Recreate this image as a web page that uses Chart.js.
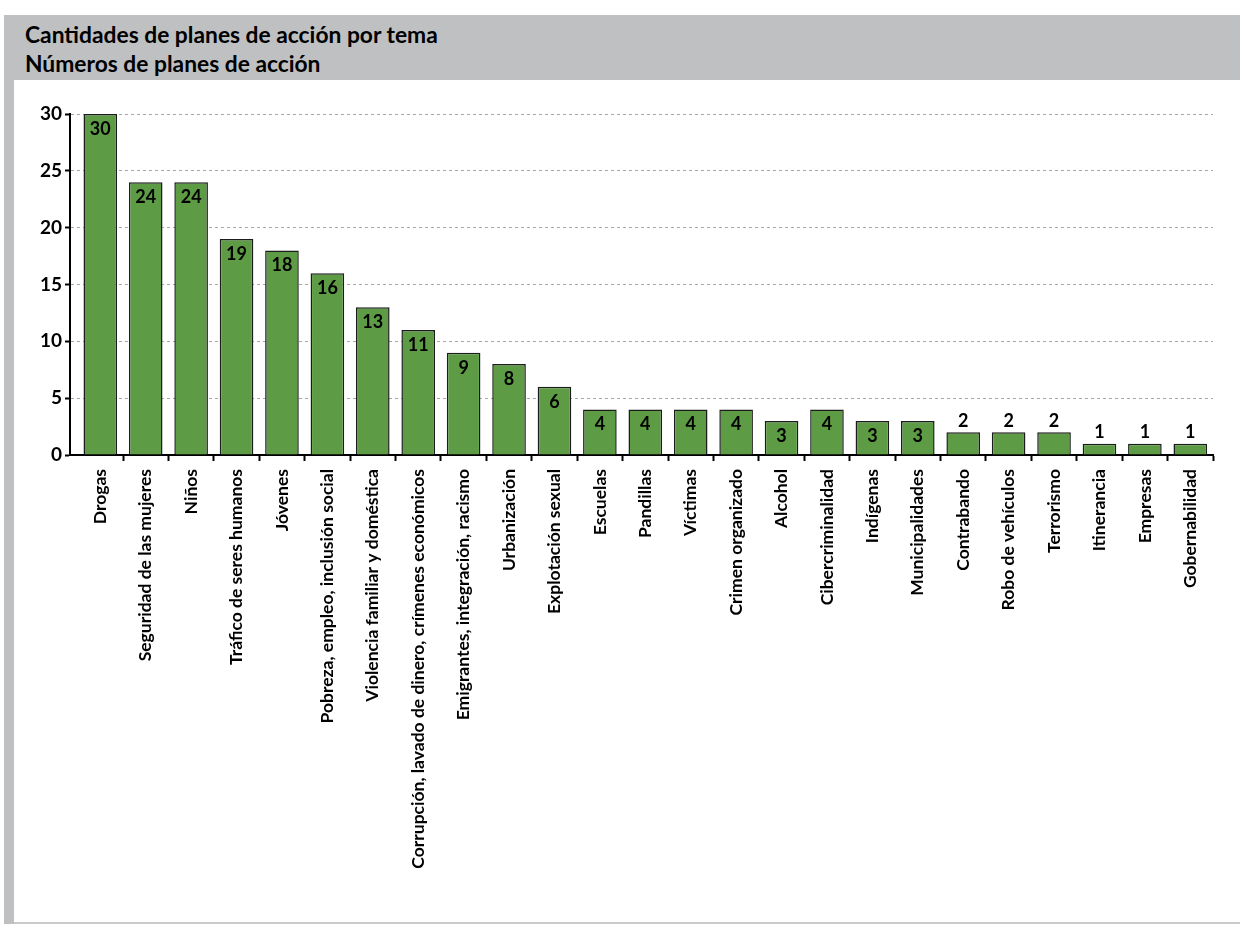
<!DOCTYPE html>
<html lang="es">
<head>
<meta charset="utf-8">
<title>Cantidades de planes de acción por tema</title>
<script src="https://cdn.jsdelivr.net/npm/chart.js"></script>
<style>
body { margin: 0; background: #fff; }
#hoja { position: relative; width: 1240px; height: 925px; overflow: hidden; }
#cabecera { position: absolute; left: 4px; top: 15px; width: 1236px; height: 65px; background: #bfc0c2; }
#franja { position: absolute; left: 4px; top: 80px; width: 10px; height: 844px; background: #bfc0c2; }
#pie { position: absolute; left: 14px; top: 922px; width: 1226px; height: 2px; background: #c9cacc; }
.titulo { position: absolute; left: 21px; font: bold 22.8px Lato, "Open Sans", sans-serif; line-height: 24px; color: #000; white-space: nowrap; }
#t1 { top: 7px; }
#t2 { top: 36px; }
#grafico { position: absolute; left: 14px; top: 80px; }
</style>
</head>
<body>
<div id="hoja">
  <div id="cabecera">
    <div class="titulo" id="t1">Cantidades de planes de acción por tema</div>
    <div class="titulo" id="t2">Números de planes de acción</div>
  </div>
  <div id="franja"></div>
  <div id="pie"></div>
  <canvas id="grafico" width="1226" height="842"></canvas>
</div>
<script>
// Temas y número de planes
const temas = [
  "Drogas", "Seguridad de las mujeres", "Niños", "Tráfico de seres humanos", "Jóvenes",
  "Pobreza, empleo, inclusión social", "Violencia familiar y doméstica",
  "Corrupción, lavado de dinero, crímenes económicos", "Emigrantes, integración, racismo",
  "Urbanización", "Explotación sexual", "Escuelas", "Pandillas", "Víctimas",
  "Crimen organizado", "Alcohol", "Cibercriminalidad", "Indígenas", "Municipalidades",
  "Contrabando", "Robo de vehículos", "Terrorismo", "Itinerancia", "Empresas", "Gobernabilidad"
]
const planes = [30, 24, 24, 19, 18, 16, 13, 11, 9, 8, 6, 4, 4, 4, 4, 3, 4, 3, 3, 2, 2, 2, 1, 1, 1]
const marcasY = [0, 5, 10, 15, 20, 25, 30]

const fuente = 'Lato, "Open Sans", sans-serif'
const verde = "#5d9c45"

// cifras sobre cada barra: dentro si cabe, encima si la barra es baja
const cifras = {
  id: "cifras",
  afterDatasetsDraw(chart) {
    const ctx = chart.ctx
    const meta = chart.getDatasetMeta(0)
    ctx.save()
    ctx.font = "bold 18px " + fuente
    ctx.fillStyle = "#000"
    ctx.textAlign = "center"
    ctx.textBaseline = "middle"
    meta.data.forEach((barra, i) => {
      const v = planes[i]
      const y = v >= 3 ? barra.y + 15 : barra.y - 11
      ctx.fillText(String(v), barra.x, y)
    })
    ctx.restore()
  }
}

new Chart(document.getElementById("grafico"), {
  type: "bar",
  data: {
    datasets: [{
      data: planes.map((v, i) => ({ x: i, y: v })),
      backgroundColor: verde,
      borderColor: "#1c1c1c",
      borderWidth: 1.5,
      barPercentage: 0.74,
      categoryPercentage: 1
    }]
  },
  options: {
    responsive: false,
    animation: false,
    devicePixelRatio: 1,
    layout: { padding: { top: 34, right: 27, left: 0, bottom: 0 } },
    plugins: { legend: { display: false }, tooltip: { enabled: false } },
    scales: {
      x: {
        type: "linear",
        offset: false,
        min: -0.667,
        max: 24.5,
        afterBuildTicks: s => { s.ticks = temas.map((t, i) => ({ value: i })) },
        afterFit: s => { s.height = 467 },
        ticks: {
          autoSkip: false,
          minRotation: 90,
          maxRotation: 90,
          padding: 8,
          color: "#000",
          font: { family: fuente, size: 17.5, weight: "bold" },
          callback: v => temas[v]
        },
        grid: {
          offset: true,
          drawOnChartArea: false,
          tickLength: 6,
          tickWidth: 2,
          tickColor: c => c.index === 0 ? "rgba(0,0,0,0)" : "#000"
        },
        border: { color: "#000", width: 2 }
      },
      y: {
        min: 0,
        max: 30,
        afterBuildTicks: s => { s.ticks = marcasY.map(v => ({ value: v })) },
        afterFit: s => { s.width = 56 },
        ticks: {
          padding: 3,
          color: "#000",
          font: { family: fuente, size: 19, weight: "bold" }
        },
        grid: {
          color: "#a8a8a8",
          lineWidth: 1,
          tickLength: 5,
          tickWidth: 2,
          tickColor: "#000",
          tickBorderDash: []
        },
        border: { color: "#000", width: 2, dash: [3, 3] }
      }
    }
  },
  plugins: [cifras]
})
</script>
</body>
</html>
